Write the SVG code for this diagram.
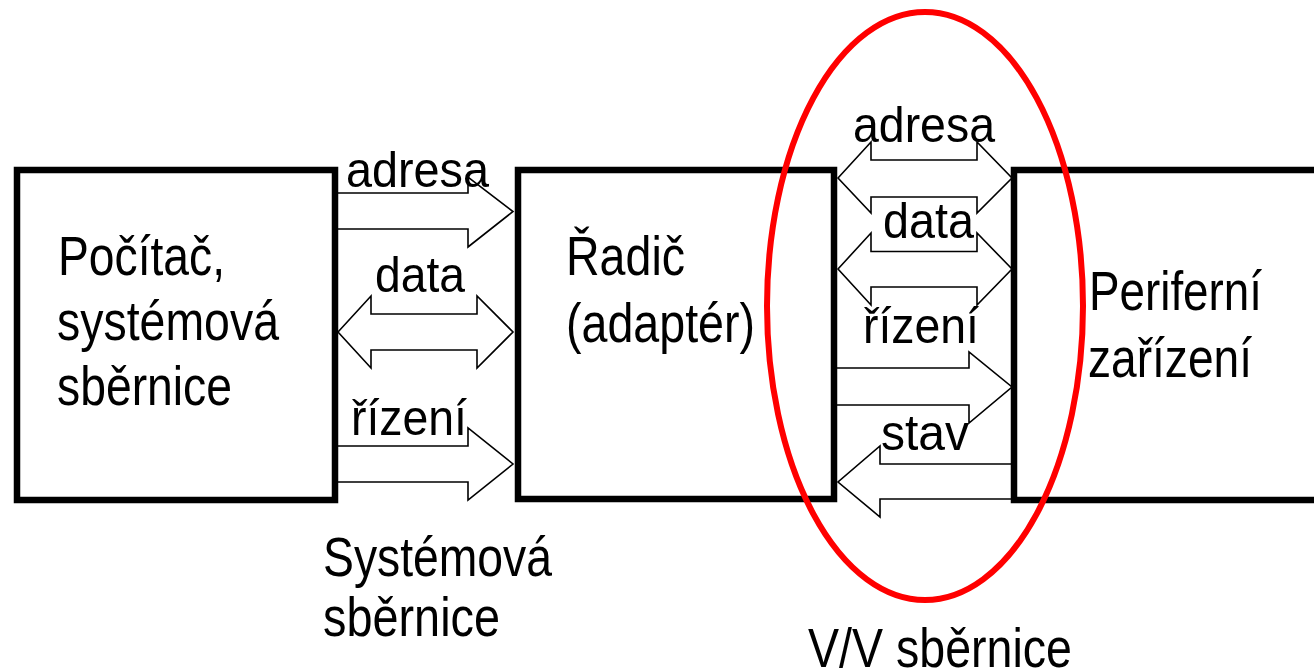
<svg xmlns="http://www.w3.org/2000/svg" width="1314" height="672" viewBox="0 0 1314 672">
<style>
.box{fill:none;stroke:#000;stroke-width:6.5;stroke-linejoin:miter}
.arr{fill:#fff;stroke:#000;stroke-width:1.6;stroke-linejoin:miter}
.t{font-family:"Liberation Sans",Arial,sans-serif;font-size:56px;fill:#000}
.l{font-family:"Liberation Sans",Arial,sans-serif;font-size:50px;fill:#000}
.ring{fill:none;stroke:#ff0000;stroke-width:6}
</style>
<rect width="1314" height="672" fill="#fff"/>
<g id="connectors">
  <polygon class="arr" points="333,193 468,193 468,177 513,211.5 468,247 468,229 333,229"/>
  <polygon class="arr" points="338,332 371,296 371,314 477,314 477,296 513,332 477,368 477,350 371,350 371,368"/>
  <polygon class="arr" points="333,446 468,446 468,428 513,464 468,500 468,482 333,482"/>
  <polygon class="arr" points="838,178 871,142 871,160 977,160 977,142 1012,178 977,213 977,197 871,197 871,213"/>
  <polygon class="arr" points="838,269 871,233 871,251.5 977,251.5 977,233 1012,269 977,305 977,287 871,287 871,305"/>
  <polygon class="arr" points="836,368 969,368 969,352 1012,387 969,423 969,405 836,405"/>
  <polygon class="arr" points="1016,464 880,464 880,446 838,482 880,517 880,499 1016,499"/>
  <text class="l" x="346" y="187" textLength="143" lengthAdjust="spacingAndGlyphs">adresa</text>
  <text class="l" x="375" y="292" textLength="90" lengthAdjust="spacingAndGlyphs">data</text>
  <text class="l" x="351" y="435" textLength="116" lengthAdjust="spacingAndGlyphs">řízení</text>
  <text class="l" x="853" y="142" textLength="142" lengthAdjust="spacingAndGlyphs">adresa</text>
  <text class="l" x="883" y="238" textLength="91" lengthAdjust="spacingAndGlyphs">data</text>
  <text class="l" x="863" y="343" textLength="116" lengthAdjust="spacingAndGlyphs">řízení</text>
  <text class="l" x="881" y="450" textLength="88" lengthAdjust="spacingAndGlyphs">stav</text>
  <text class="t" x="323" y="576" textLength="229" lengthAdjust="spacingAndGlyphs">Systémová</text>
  <text class="t" x="323" y="636" textLength="177" lengthAdjust="spacingAndGlyphs">sběrnice</text>
</g>
<g id="pocitac">
  <rect class="box" x="17" y="170" width="318" height="330"/>
  <text class="t" x="58" y="275" textLength="167" lengthAdjust="spacingAndGlyphs">Počítač,</text>
  <text class="t" x="57" y="340" textLength="222" lengthAdjust="spacingAndGlyphs">systémová</text>
  <text class="t" x="57" y="405" textLength="175" lengthAdjust="spacingAndGlyphs">sběrnice</text>
</g>
<g id="radic">
  <rect class="box" x="518" y="170" width="316" height="329"/>
  <text class="t" x="566" y="275" textLength="119" lengthAdjust="spacingAndGlyphs">Řadič</text>
  <text class="t" x="566" y="342" textLength="189" lengthAdjust="spacingAndGlyphs">(adaptér)</text>
</g>
<g id="periferie">
  <rect class="box" x="1014" y="170" width="320" height="330"/>
  <text class="t" x="1089" y="310" textLength="173" lengthAdjust="spacingAndGlyphs">Periferní</text>
  <text class="t" x="1088" y="377" textLength="164" lengthAdjust="spacingAndGlyphs">zařízení</text>
</g>
<g id="vv-sbernice">
  <ellipse class="ring" cx="925" cy="306" rx="158" ry="294"/>
  <text class="t" x="808" y="667" textLength="264" lengthAdjust="spacingAndGlyphs">V/V sběrnice</text>
</g>
</svg>
